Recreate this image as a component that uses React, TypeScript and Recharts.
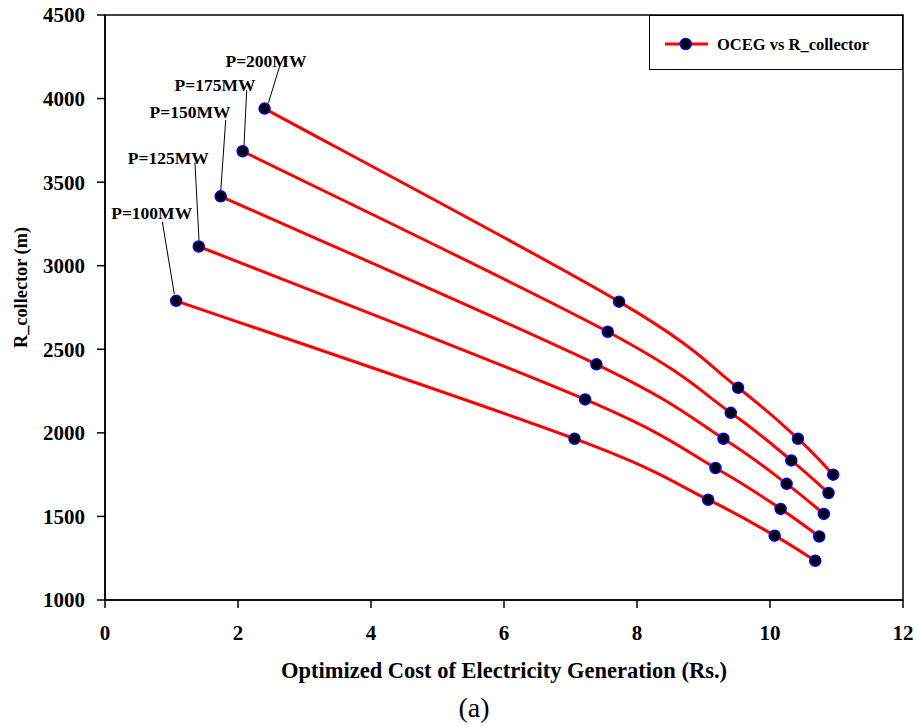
import React from 'react';
import {
  LineChart,
  Line,
  XAxis,
  YAxis,
  Legend,
  ReferenceArea,
  ReferenceLine,
  ReferenceDot,
} from 'recharts';

// ---- data ----
const xTicks = [0, 2, 4, 6, 8, 10, 12];
const yTicks = [1000, 1500, 2000, 2500, 3000, 3500, 4000, 4500];

const powerLabels = ['P=100MW', 'P=125MW', 'P=150MW', 'P=175MW', 'P=200MW'];

const cost100 = [1.07, 7.06, 9.07, 10.07, 10.68];
const rcol100 = [2790, 1965, 1600, 1385, 1235];
const cost125 = [1.41, 7.22, 9.18, 10.16, 10.74];
const rcol125 = [3115, 2200, 1790, 1545, 1380];
const cost150 = [1.74, 7.39, 9.3, 10.25, 10.81];
const rcol150 = [3415, 2410, 1965, 1695, 1515];
const cost175 = [2.07, 7.56, 9.41, 10.32, 10.88];
const rcol175 = [3685, 2605, 2120, 1835, 1640];
const cost200 = [2.4, 7.73, 9.52, 10.42, 10.95];
const rcol200 = [3940, 2785, 2270, 1965, 1750];

// annotation anchors (in data units)
const annotX = [0.702, 0.952, 1.278, 1.654, 2.42];
const annotY = [3317, 3643, 3921, 4081, 4227];
const leaderX1 = [0.862, 1.353, 1.815, 2.131, 2.632];
const leaderY1 = [3263, 3616, 3872, 4051, 4201];
const leaderX2 = [1.042, 1.414, 1.74, 2.09, 2.456];
const leaderY2 = [2831, 3150, 3443, 3716, 3972];

const legendName = 'OCEG vs R_collector';
const xTitle = 'Optimized Cost of Electricity Generation (Rs.)';
const yTitle = 'R_collector (m)';
const caption = '(a)';

const toRows = (xs: number[], ys: number[]) => xs.map((x, i) => ({ x, y: ys[i] }));
const seriesList = [
  toRows(cost100, rcol100),
  toRows(cost125, rcol125),
  toRows(cost150, rcol150),
  toRows(cost175, rcol175),
  toRows(cost200, rcol200),
];

const FONT = '"Liberation Serif", "Times New Roman", serif';
const RED = '#ff0000';
const BLUE = '#0000ff';

// Catmull-Rom style smoothing (similar to spreadsheet smoothed lines)
function smoothCurve(context: any) {
  let pts: number[][] = [];
  return {
    areaStart() {},
    areaEnd() {},
    lineStart() {
      pts = [];
    },
    point(x: number, y: number) {
      pts.push([+x, +y]);
    },
    lineEnd() {
      if (!pts.length) return;
      context.moveTo(pts[0][0], pts[0][1]);
      for (let i = 0; i < pts.length - 1; i++) {
        const p0 = pts[i - 1] || pts[i];
        const p1 = pts[i];
        const p2 = pts[i + 1];
        const p3 = pts[i + 2] || p2;
        context.bezierCurveTo(
          p1[0] + (p2[0] - p0[0]) / 6,
          p1[1] + (p2[1] - p0[1]) / 6,
          p2[0] - (p3[0] - p1[0]) / 6,
          p2[1] - (p3[1] - p1[1]) / 6,
          p2[0],
          p2[1]
        );
      }
    },
  };
}

const renderLegend = () => (
  <div
    style={{
      width: 254,
      height: 55,
      boxSizing: 'border-box',
      border: '1.5px solid #000',
      background: '#fff',
      position: 'relative',
    }}
  >
    <svg width={254} height={55} style={{ position: 'absolute', left: -1.5, top: -1.5 }}>
      <line x1={16} x2={59} y1={29} y2={29} stroke={RED} strokeWidth={3} />
      <circle cx={36.7} cy={29} r={5.5} fill="#000" stroke={BLUE} strokeWidth={1.5} />
      <text
        x={68}
        y={29}
        dy="0.35em"
        fontFamily={FONT}
        fontWeight="bold"
        fontSize={16.5}
        fill="#000"
      >
        {legendName}
      </text>
    </svg>
  </div>
);

const renderXLabel = (props: any) => {
  const vb = props.viewBox || { x: 105, width: 798, y: 600 };
  const cx = vb.x + vb.width / 2;
  return (
    <g>
      <text
        x={cx}
        y={678}
        textAnchor="middle"
        fontFamily={FONT}
        fontWeight="bold"
        fontSize={22.5}
        fill="#000"
      >
        {xTitle}
      </text>
      <text x={474} y={717} textAnchor="middle" fontFamily={FONT} fontSize={28} fill="#000">
        {caption}
      </text>
    </g>
  );
};

const renderYLabel = () => (
  <text
    x={27}
    y={287.5}
    transform="rotate(-90, 27, 287.5)"
    textAnchor="middle"
    fontFamily={FONT}
    fontWeight="bold"
    fontSize={19.5}
    textLength={121}
    lengthAdjust="spacingAndGlyphs"
    fill="#000"
  >
    {yTitle}
  </text>
);

const tickStyle = { fontFamily: FONT, fontWeight: 'bold', fontSize: 21, fill: '#000' };

export default function App() {
  return (
    <div style={{ position: 'absolute', left: 0, top: 0, width: 917, height: 727, background: '#fff' }}>
      <LineChart width={917} height={727} margin={{ top: 15, right: 14, bottom: 0, left: 0 }}>
        <XAxis
          type="number"
          dataKey="x"
          domain={[0, 12]}
          ticks={xTicks}
          interval={0}
          allowDataOverflow
          height={127}
          tickSize={8}
          tickMargin={17}
          tick={tickStyle}
          axisLine={{ stroke: '#000', strokeWidth: 1.5 }}
          tickLine={{ stroke: '#000', strokeWidth: 1.5 }}
          label={renderXLabel}
        />
        <YAxis
          type="number"
          dataKey="y"
          domain={[1000, 4500]}
          ticks={yTicks}
          interval={0}
          allowDataOverflow
          width={105}
          tickSize={8}
          tickMargin={12}
          tick={tickStyle}
          axisLine={{ stroke: '#000', strokeWidth: 1.5 }}
          tickLine={{ stroke: '#000', strokeWidth: 1.5 }}
          label={renderYLabel}
        />
        <ReferenceArea
          x1={0}
          x2={12}
          y1={1000}
          y2={4500}
          fill="none"
          fillOpacity={0}
          stroke="#000"
          strokeWidth={1.5}
        />
        {powerLabels.map((_, i) => (
          <ReferenceLine
            key={'lead' + i}
            segment={[
              { x: leaderX1[i], y: leaderY1[i] },
              { x: leaderX2[i], y: leaderY2[i] },
            ]}
            stroke="#000"
            strokeWidth={1}
          />
        ))}
        {powerLabels.map((lab, i) => (
          <ReferenceDot
            key={'ann' + i}
            x={annotX[i]}
            y={annotY[i]}
            r={0}
            shape={(p: any) => (
              <text
                x={p.cx}
                y={p.cy}
                dy="0.35em"
                textAnchor="middle"
                fontFamily={FONT}
                fontWeight="bold"
                fontSize={17.5}
                fill="#000"
              >
                {lab}
              </text>
            )}
          />
        ))}
        {seriesList.map((rows, i) => (
          <Line
            key={'s' + i}
            data={rows}
            dataKey="y"
            name={legendName}
            type={smoothCurve as any}
            stroke={RED}
            strokeWidth={3}
            dot={{ r: 5.5, fill: '#000', stroke: BLUE, strokeWidth: 1.5 }}
            activeDot={false}
            isAnimationActive={false}
          />
        ))}
        <Legend
          layout="horizontal"
          verticalAlign="middle"
          align="center"
          content={renderLegend}
          wrapperStyle={{ left: 649, top: 15, width: 254, height: 55 }}
        />
      </LineChart>
    </div>
  );
}
